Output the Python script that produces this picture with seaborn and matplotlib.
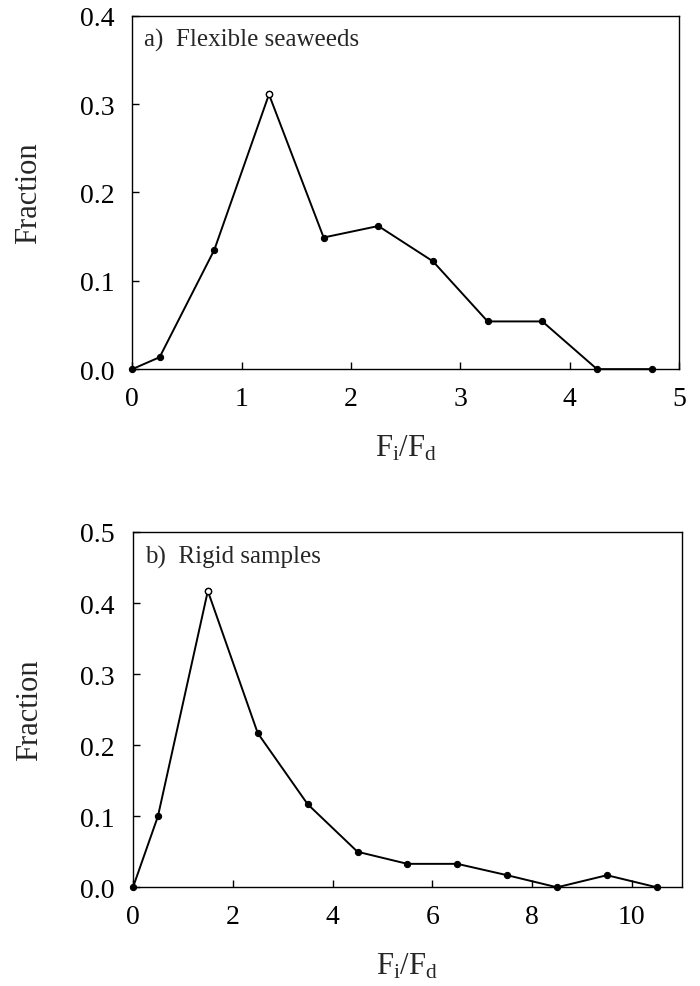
import matplotlib
matplotlib.use("Agg")
import matplotlib.pyplot as plt
import seaborn as sns
import pandas as pd

# Panel a) Flexible seaweeds
flex_x = [0, 0.25, 0.75, 1.25, 1.75, 2.25, 2.75, 3.25, 3.75, 4.25, 4.75]
flex_y = [0, 0.0135, 0.135, 0.311, 0.149, 0.162, 0.122, 0.054, 0.054, 0, 0]
# Panel b) Rigid samples
rigid_x = [0, 0.5, 1.5, 2.5, 3.5, 4.5, 5.5, 6.5, 7.5, 8.5, 9.5, 10.5]
rigid_y = [0, 0.100, 0.417, 0.217, 0.117, 0.050, 0.033, 0.033, 0.017, 0, 0.017, 0]

flex_ticks_x = [0, 1, 2, 3, 4, 5]
flex_ticks_y = [0.0, 0.1, 0.2, 0.3, 0.4]
rigid_ticks_x = [0, 2, 4, 6, 8, 10]
rigid_ticks_y = [0.0, 0.1, 0.2, 0.3, 0.4, 0.5]

sns.set_theme(style="white")
plt.rcParams['font.family'] = ['Liberation Serif', 'DejaVu Serif']
plt.rcParams['mathtext.fontset'] = 'custom'
plt.rcParams['mathtext.rm'] = 'Liberation Serif'
plt.rcParams['mathtext.it'] = 'Liberation Serif:italic'

fig = plt.figure(figsize=(7, 9.87), dpi=100)
ax1 = fig.add_axes([0.189, 0.625, 0.781, 0.358])
ax2 = fig.add_axes([0.190, 0.100, 0.784, 0.360])

panels = [
    (ax1, flex_x, flex_y, (0, 5), (0, 0.4), flex_ticks_x, flex_ticks_y, "a)  Flexible seaweeds"),
    (ax2, rigid_x, rigid_y, (0, 11), (0, 0.5), rigid_ticks_x, rigid_ticks_y, "b)  Rigid samples"),
]

for ax, xs, ys, xl, yl, xt, yt, title in panels:
    df = pd.DataFrame({"x": xs, "y": ys})
    sns.lineplot(data=df, x="x", y="y", ax=ax, color="black", linewidth=1.4,
                 marker="o", markersize=4.5, markerfacecolor="black",
                 markeredgecolor="black", clip_on=False)
    imax = int(df["y"].idxmax())
    ax.plot([xs[imax]], [ys[imax]], "o", ms=4.5, mfc="white", mec="black",
            mew=1.0, zorder=5, clip_on=False)
    ax.set_xlim(*xl)
    ax.set_ylim(*yl)
    ax.set_xticks(xt)
    ax.set_yticks(yt)
    ax.set_xticklabels([str(v) for v in xt])
    ax.set_yticklabels([f"{v:.1f}" for v in yt])
    ax.tick_params(direction="in", length=5, width=1, colors="black",
                   labelsize=20, bottom=True, left=True, top=False, right=False)
    ax.tick_params(axis="x", pad=12)
    ax.tick_params(axis="y", pad=13)
    for s in ax.spines.values():
        s.set_color("black")
        s.set_linewidth(1.0)
    ax.set_xlabel(r"F$_{\mathrm{i}}$/F$_{\mathrm{d}}$", fontsize=22, labelpad=16)
    ax.set_ylabel("Fraction", fontsize=22, labelpad=26)
    ax.text(0.022, 0.965, title, transform=ax.transAxes, fontsize=18,
            ha="left", va="top")

fig.savefig("out.png", dpi=100)
